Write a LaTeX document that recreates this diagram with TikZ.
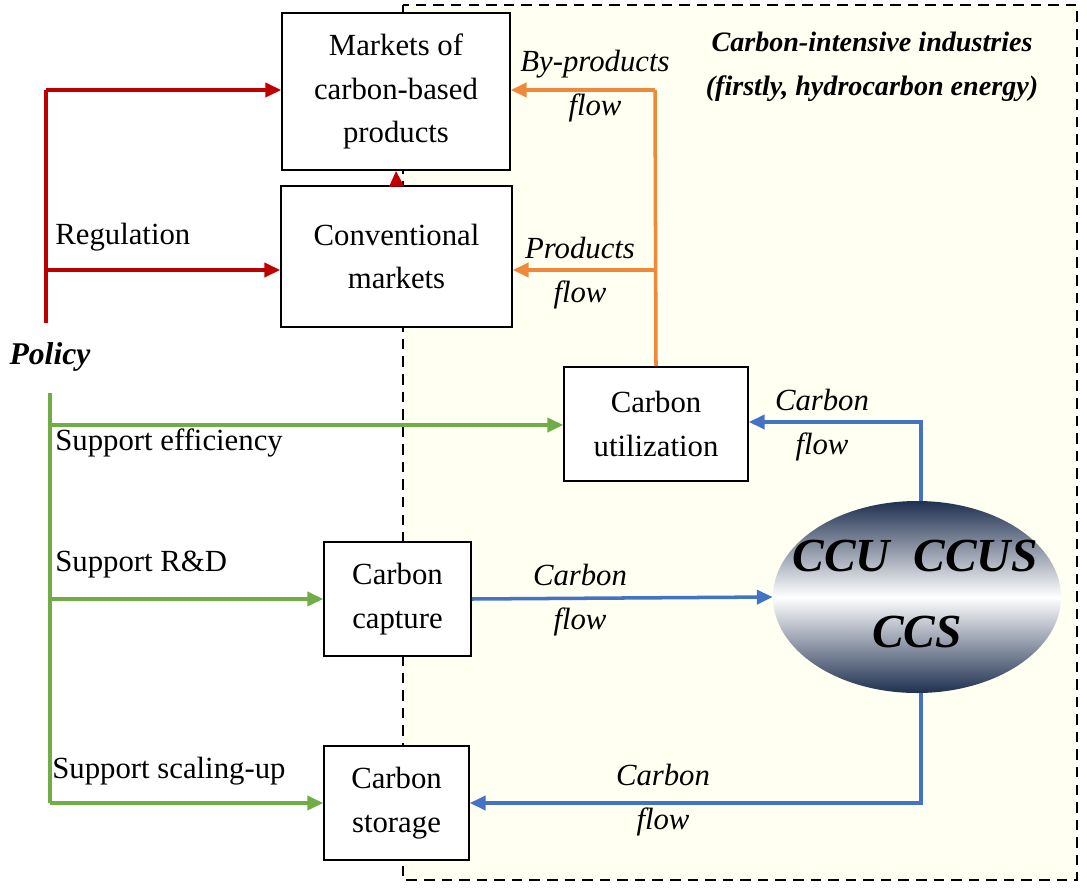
\documentclass[tikz,border=0pt]{standalone}
\usepackage{fontspec}
\setmainfont{Liberation Serif}
\usetikzlibrary{arrows.meta,shapes.geometric}
\definecolor{cred}{HTML}{C00000}
\definecolor{corange}{HTML}{F0883A}
\definecolor{cgreen}{HTML}{70AD47}
\definecolor{cblue}{HTML}{4472C4}
\definecolor{cnavy}{HTML}{1F3050}
\definecolor{cbg}{HTML}{FFFFF2}
\begin{document}
\begin{tikzpicture}[x=0.02cm,y=-0.02cm,
  box/.style={draw,line width=0.9pt,fill=white,inner sep=0pt,align=center,font=\fontsize{17.5}{25}\selectfont},
  lab/.style={font=\fontsize{17.5}{25}\selectfont,align=left,anchor=west,inner sep=0pt},
  ilab/.style={font=\fontsize{17.5}{25}\selectfont\itshape,align=center},
  ar/.style={line width=2pt,-{Triangle[length=9pt,width=8pt]}},
  ln/.style={line width=2pt}]
\useasboundingbox (0,0) rectangle (1087,888);
\draw[dash pattern=on 6pt off 4pt,line width=1.3pt,fill=cbg] (403,5) rectangle (1077,880);
\node[box,minimum width=228*0.02cm,minimum height=157*0.02cm] (mk) at (396,91.5) {Markets of\\carbon-based\\products};
\node[box,minimum width=231*0.02cm,minimum height=141*0.02cm] (cm) at (396.5,256.5) {Conventional\\markets};
\node[box,minimum width=184*0.02cm,minimum height=114*0.02cm] (cu) at (656,424) {Carbon\\utilization};
\node[box,minimum width=147*0.02cm,minimum height=114*0.02cm] (cc) at (397.5,599) {Carbon\\capture};
\node[box,minimum width=145*0.02cm,minimum height=114*0.02cm] (cs) at (396.5,803) {Carbon\\storage};
\shade[top color=cnavy,bottom color=cnavy,middle color=white] (917,597) ellipse [x radius=144,y radius=96];
\node[ellipse,minimum width=288*0.02cm,minimum height=192*0.02cm,inner sep=0pt] (el) at (917,597) {};
\coordinate (et) at (921,501); \coordinate (eb) at (921,693);
\node[font=\fontsize{27}{32}\selectfont\bfseries\itshape] at (915,556) {CCU\ \ CCUS};
\node[font=\fontsize{27}{32}\selectfont\bfseries\itshape] at (917,632) {CCS};
\node[font=\fontsize{18}{24}\selectfont\bfseries\itshape] (pol) at (50,357) {Policy};
\node[font=\fontsize{16}{25}\selectfont\bfseries\itshape,align=center] (ttl) at (872,67) {Carbon-intensive industries\\(firstly, hydrocarbon energy)};
% red
\coordinate (r1) at (46,323); \coordinate (r2) at (46,90); \coordinate (r3) at (46,270);
\draw[ln,cred] (r1) -- (r2);
\draw[ar,cred] (r2) -- (mk.west |- r2);
\draw[ar,cred] (r3) -- (cm.west |- r3);
\draw[ar,cred] (cm.north) -- (mk.south);
\node[lab] at (55,237) {Regulation};
% green
\coordinate (g1) at (50,393); \coordinate (g2) at (50,803);
\draw[ln,cgreen] (g1) -- (g2);
\draw[ar,cgreen] (50,425) -- (cu.west |- 0,425);
\draw[ar,cgreen] (50,599) -- (cc.west);
\draw[ar,cgreen] (g2) -- (cs.west);
\node[lab] at (55,443) {Support efficiency};
\node[lab] at (55,565) {Support R\&D};
\node[lab] at (52,771) {Support scaling-up};
% orange
\coordinate (o1) at (655,90); \coordinate (o2) at (655,270);
\draw[ln,corange] (cu.north) -- (o1);
\draw[ar,corange] (o1) -- (mk.east |- o1);
\draw[ar,corange] (o2) -- (cm.east |- o2);
\node[ilab] at (595,86) {By-products\\flow};
\node[ilab] at (580,273) {Products\\flow};
% blue
\coordinate (b1) at (921,422); \coordinate (b2) at (921,803);
\draw[ar,cblue] (et) -- (b1) -- (cu.east |- b1);
\draw[ar,cblue] (cc.east) -- (el.west);
\draw[ar,cblue] (eb) -- (b2) -- (cs.east |- b2);
\node[ilab] at (822,425) {Carbon\\flow};
\node[ilab] at (580,600) {Carbon\\flow};
\node[ilab] at (663,800) {Carbon\\flow};
\end{tikzpicture}
\end{document}
